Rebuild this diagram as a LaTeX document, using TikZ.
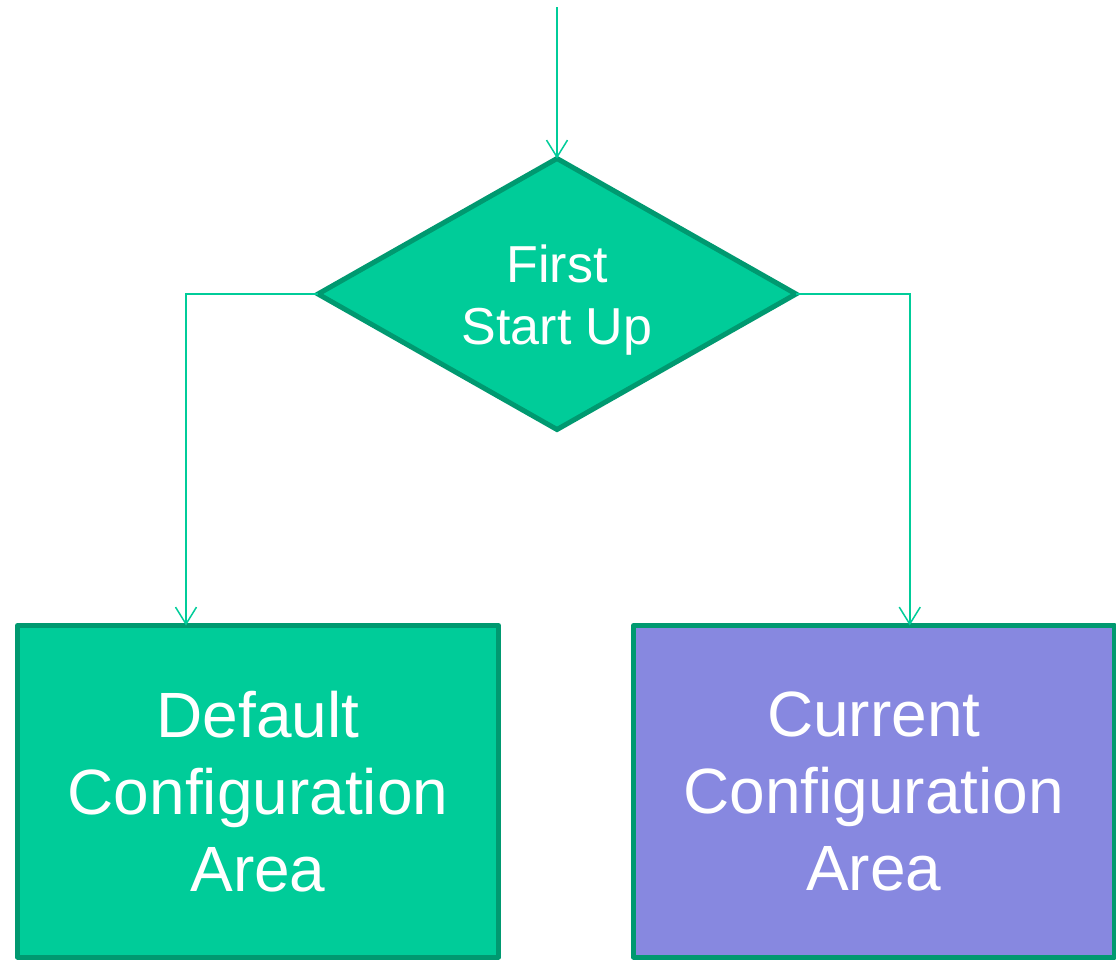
\documentclass[tikz,border=0pt]{standalone}
\usepackage{fontspec}
\setmainfont{Liberation Sans}
\usetikzlibrary{shapes.geometric,arrows.meta}
\definecolor{flowgreen}{RGB}{0,204,153}
\definecolor{flowedge}{RGB}{0,153,112}
\definecolor{flowpurple}{RGB}{135,136,224}
\begin{document}
\begin{tikzpicture}[x=1pt,y=-1pt,
  decision/.style={diamond, aspect=1.76, draw=flowedge, fill=flowgreen, line width=5pt,
    minimum width=478pt, minimum height=271pt, inner sep=0pt, outer sep=0pt,
    text=white, align=center, font=\fontsize{52}{62}\selectfont},
  area/.style={rectangle, draw=flowedge, line width=5pt, line join=round,
    minimum width=481pt, minimum height=331.5pt, inner sep=0pt, outer sep=0pt,
    text=white, align=center, font=\fontsize{64}{77}\selectfont},
  flow/.style={draw=flowgreen, line width=1.5pt,
    -{Straight Barb[length=17pt,width=21pt,line width=1.5pt]}}]
  \useasboundingbox (0,0) rectangle (1116,959);

  % decision and the two configuration areas
  \node[decision] (start) at (557,294) {\rule{0pt}{50pt}First\\Start Up};
  \node[area, fill=flowgreen] (default) at (258,791.25)
    {Default\\Configuration\\Area};
  \node[area, fill=flowpurple, minimum width=480.5pt] (current) at (873.75,791.25)
    {Current\\Configuration\\Area};

  % connectors
  \coordinate (entry) at (557,7);
  \draw[flow] (entry) -- (start.north);
  \draw[flow] (start.west) -| ([xshift=-72pt]default.north);
  \draw[flow] (start.east) -| ([xshift=36pt]current.north);
\end{tikzpicture}
\end{document}
